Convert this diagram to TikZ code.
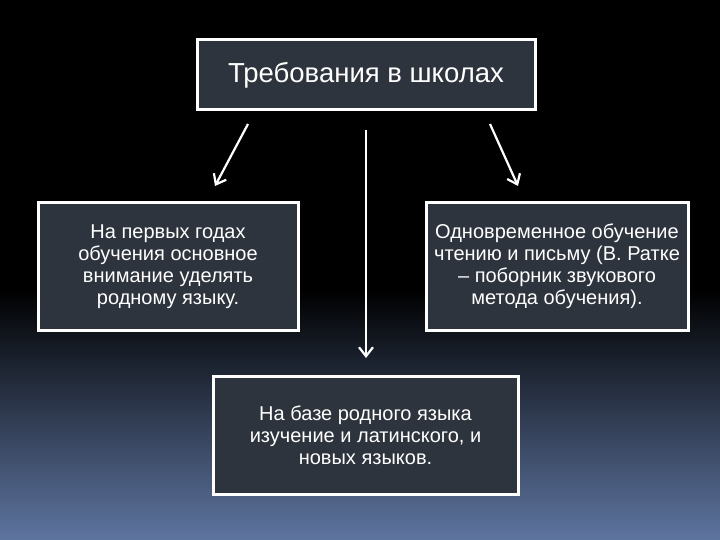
\documentclass[tikz,border=0pt]{standalone}
\usepackage{fontspec}
\setmainfont{Liberation Sans}
\usetikzlibrary{arrows.meta}
\definecolor{boxfill}{HTML}{2E343D}
\definecolor{bottomblue}{HTML}{5E75A0}
\begin{document}
\begin{tikzpicture}[x=1pt,y=-1pt,
  box/.style={draw=white,line width=3pt,fill=boxfill,text=white,align=center,inner sep=0pt},
  arr/.style={draw=white,line width=2.2pt,-{Straight Barb[length=9pt,width=14pt]}}]
\useasboundingbox (0,0) rectangle (720,540);
\fill[black] (0,0) rectangle (720,290);
\shade[top color=black,bottom color=bottomblue] (0,289) rectangle (720,540);
\node[box,minimum width=338pt,minimum height=70pt,font=\fontsize{27.5}{32}\selectfont] (t) at (366,75) {Требования в школах};
\node[box,minimum width=260pt,minimum height=127pt,font=\fontsize{20}{22}\selectfont] (l) at (168,266.5) {На первых годах\\обучения основное\\внимание уделять\\родному языку.};
\node[box,minimum width=262pt,minimum height=127pt,font=\fontsize{20}{22}\selectfont] (r) at (557,266.5) {Одновременное обучение\\чтению и письму (В. Ратке\\– поборник звукового\\метода обучения).};
\node[box,minimum width=305pt,minimum height=118pt,font=\fontsize{20}{22}\selectfont] (b) at (365.5,435) {На базе родного языка\\изучение и латинского, и\\новых языков.};
\coordinate (a1) at (248,124); \coordinate (a1e) at (215,186);
\coordinate (a2) at (366,130); \coordinate (a2e) at (366,358);
\coordinate (a3) at (490,124); \coordinate (a3e) at (518,186);
\draw[arr] (a1) -- (a1e);
\draw[arr] (a2) -- (a2e);
\draw[arr] (a3) -- (a3e);
\end{tikzpicture}
\end{document}
